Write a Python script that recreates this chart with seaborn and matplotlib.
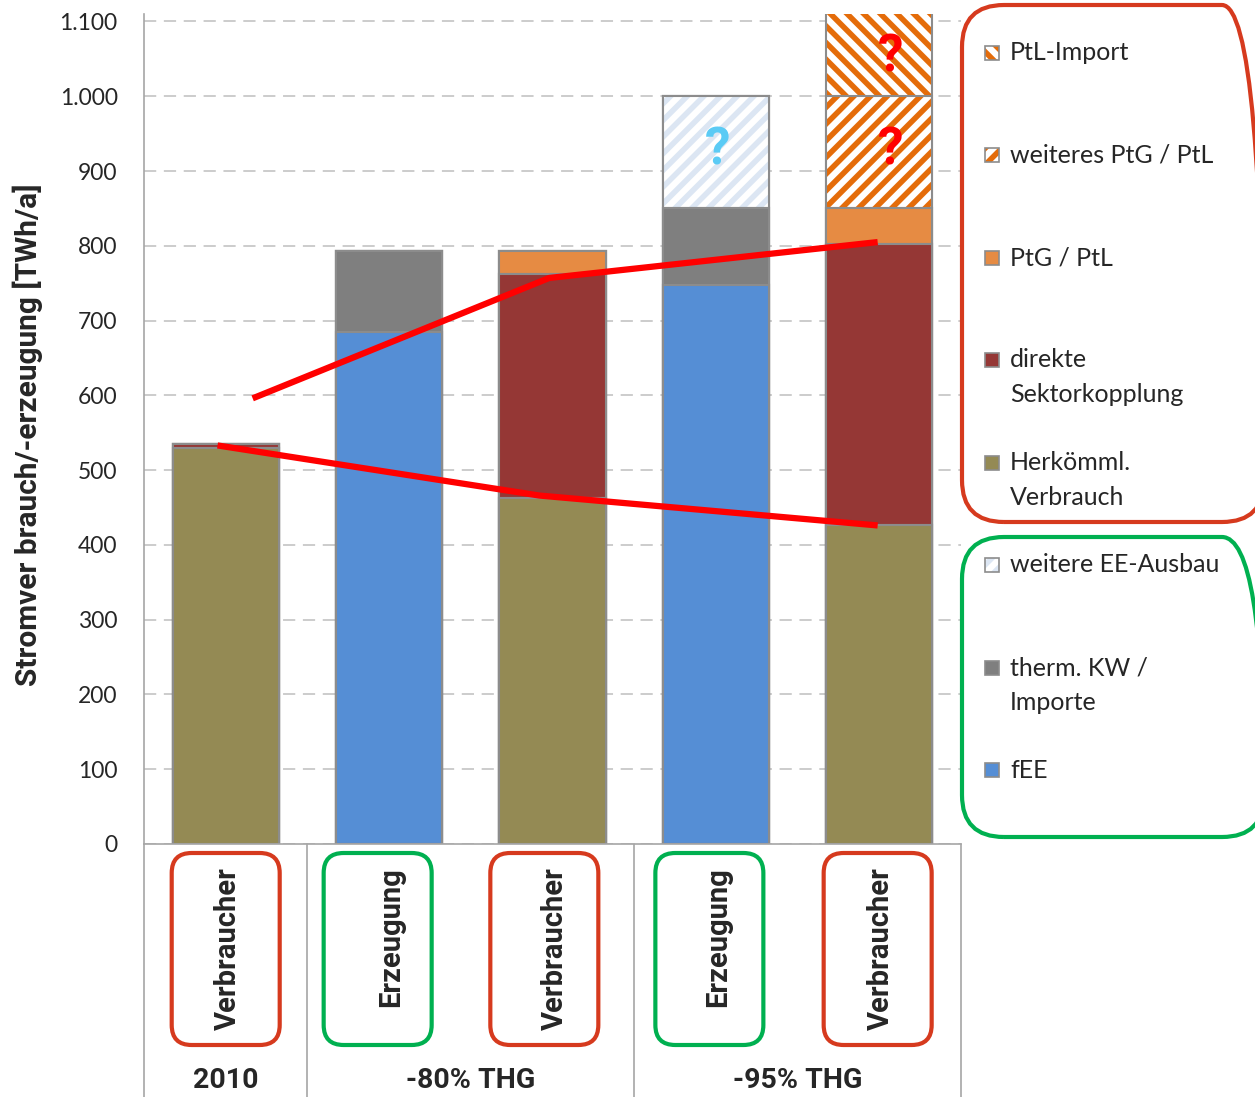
import numpy as np
import pandas as pd
import seaborn as sns
import matplotlib.pyplot as plt
from matplotlib.patches import FancyBboxPatch, Rectangle
from matplotlib.ticker import FuncFormatter

# --- data -------------------------------------------------------------
groups = ["2010", "-80% THG", "-95% THG"]
group_of_bar = [0, 1, 1, 2, 2]
bar_kind = ["Verbraucher", "Erzeugung", "Verbraucher", "Erzeugung", "Verbraucher"]

# Verbraucher side [TWh/a]
herkoemml = [530, 0, 463, 0, 427]
direkte = [5, 0, 299, 0, 375]
ptg_ptl = [0, 0, 31, 0, 48]
weiteres_ptg = [0, 0, 0, 0, 150]
ptl_import = [0, 0, 0, 0, 120]
# Erzeugung side [TWh/a]
fee = [0, 685, 0, 747, 0]
therm = [0, 108, 0, 103, 0]
weitere_ee = [0, 0, 0, 150, 0]

# red guide lines (bar index, TWh/a)
upper_x = [0.165, 1.98, 3.99]
upper_y = [596, 757, 805]
lower_x = [-0.05, 1.92, 3.99]
lower_y = [533, 466, 426]

# question marks on the open segments
q_x = [3.01, 4.07, 4.07]
q_y = [928, 928, 1052]
q_color = ["#5BCBF5", "#FF0000", "#FF0000"]

# --- styles -----------------------------------------------------------
EDGE = "#8C8C8C"
RED_BOX = "#D63A1E"
GREEN_BOX = "#00B050"
BOLD = ["Roboto", "DejaVu Sans"]

# stacking order bottom -> top
stack = [
    ("Herkömml.\nVerbrauch", herkoemml, dict(color="#948A54")),
    ("fEE", fee, dict(color="#558ED5")),
    ("direkte\nSektorkopplung", direkte, dict(color="#953735")),
    ("therm. KW /\nImporte", therm, dict(color="#7F7F7F")),
    ("PtG / PtL", ptg_ptl, dict(color="#E68B43")),
    ("weitere EE-Ausbau", weitere_ee, dict(color="white", hatch="//", hc="#DCE6F3")),
    ("weiteres PtG / PtL", weiteres_ptg, dict(color="white", hatch="//", hc="#E46C0A")),
    ("PtL-Import", ptl_import, dict(color="white", hatch="\\\\", hc="#E46C0A")),
]
styles = {lab: st for lab, _, st in stack}

sns.set_style("white")
plt.rcParams["font.family"] = ["Lato", "DejaVu Sans"]
plt.rcParams["hatch.linewidth"] = 4.0

W, H = 1255, 1097
fig = plt.figure(figsize=(W / 100, H / 100), dpi=100)
ax_l, ax_r, ax_t, ax_b = 144, 961, 14, 844
ax = fig.add_axes([ax_l / W, 1 - ax_b / H, (ax_r - ax_l) / W, (ax_b - ax_t) / H])

# stacked bars: draw cumulative tops from the top layer down
bar_ids = [f"b{i}" for i in range(len(bar_kind))]
tops = np.cumsum([vals for _, vals, _ in stack], axis=0)
for (lab, vals, st), top in reversed(list(zip(stack, tops))):
    df = pd.DataFrame({"bar": bar_ids, "top": top})
    if "hatch" in st:
        sns.barplot(data=df, x="bar", y="top", color="white", saturation=1,
                    width=0.65, errorbar=None, hatch=st["hatch"],
                    edgecolor=st["hc"], linewidth=0, ax=ax)
        sns.barplot(data=df, x="bar", y="top", color=EDGE, saturation=1,
                    width=0.65, errorbar=None, fill=False, linewidth=1.5, ax=ax)
    else:
        sns.barplot(data=df, x="bar", y="top", color=st["color"], saturation=1,
                    width=0.65, errorbar=None, edgecolor=EDGE, linewidth=1.5, ax=ax)

# red funnel lines
ax.plot(upper_x, upper_y, color="#FF0000", lw=4.5, solid_capstyle="butt", zorder=5)
ax.plot(lower_x, lower_y, color="#FF0000", lw=4.5, solid_capstyle="butt", zorder=5)

for x, y, c in zip(q_x, q_y, q_color):
    ax.text(x, y, "?", color=c, fontsize=37, fontweight="bold", family=BOLD,
            ha="center", va="center", zorder=6)

# axes look
ax.set_xlim(-0.5, 4.5)
ax.set_ylim(0, 1110)
ax.set_yticks(range(0, 1101, 100))
ax.yaxis.set_major_formatter(FuncFormatter(lambda v, p: f"{v:,.0f}".replace(",", ".")))
ax.tick_params(axis="y", length=0, pad=19, labelsize=16.5)
ax.set_xticks([])
ax.set_xlabel("")
ax.set_ylabel("Stromver brauch/-erzeugung [TWh/a]", fontsize=21.5, fontweight="bold", family=BOLD)
ax.yaxis.set_label_coords((43 - ax_l) / (ax_r - ax_l), (ax_b - 435) / (ax_b - ax_t))
ax.grid(axis="y", color="#BFBFBF", lw=1.1, linestyle=(0, (8, 5)))
ax.set_axisbelow(True)
for side in ["top", "right"]:
    ax.spines[side].set_visible(False)
for side in ["left", "bottom"]:
    ax.spines[side].set_color("#A6A6A6")
    ax.spines[side].set_linewidth(1.2)

# category table under the axis
xt = ax.get_xaxis_transform()
y_bottom = -(H - ax_b) / (ax_b - ax_t)
for xs in [-0.5, 0.5, 2.5, 4.5]:
    ax.plot([xs, xs], [0, y_bottom], transform=xt, color="#A6A6A6", lw=1.2, clip_on=False)
for g, name in enumerate(groups):
    pos = [i for i, gb in enumerate(group_of_bar) if gb == g]
    ax.text(np.mean(pos), (ax_b - 1080) / (ax_b - ax_t), name, transform=xt,
            ha="center", va="center", fontsize=20.5, fontweight="bold", family=BOLD)

fig.canvas.draw()
box_shift = [0, -0.07, -0.05, -0.04, -0.01]
for i, kind in enumerate(bar_kind):
    cx = ax.transData.transform((i, 0))[0]
    bx = ax.transData.transform((i + box_shift[i], 0))[0]
    fig.text((cx + 2) / W, 1 - 867 / H, kind, rotation=90, ha="center", va="top",
             fontsize=21, fontweight="bold", family=BOLD)
    col = RED_BOX if kind == "Verbraucher" else GREEN_BOX
    fig.add_artist(FancyBboxPatch(((bx - 54) / 100, (H - 1045) / 100), 1.08, 1.92,
                                  boxstyle="round,pad=0,rounding_size=0.2",
                                  transform=fig.dpi_scale_trans, fill=False,
                                  ec=col, lw=3))

# hand-made legend in two rounded boxes
fig.add_artist(FancyBboxPatch((9.62, (H - 522) / 100), 3.02, 5.17,
                              boxstyle="round,pad=0,rounding_size=0.42",
                              transform=fig.dpi_scale_trans, fill=False, ec=RED_BOX, lw=3))
fig.add_artist(FancyBboxPatch((9.62, (H - 837) / 100), 3.02, 3.00,
                              boxstyle="round,pad=0,rounding_size=0.42",
                              transform=fig.dpi_scale_trans, fill=False, ec=GREEN_BOX, lw=3))

legend_order = ["PtL-Import", "weiteres PtG / PtL", "PtG / PtL", "direkte\nSektorkopplung",
                "Herkömml.\nVerbrauch", "weitere EE-Ausbau", "therm. KW /\nImporte", "fEE"]
legend_y = [53, 155, 258, 360, 463, 565, 668, 770]
for lab, py in zip(legend_order, legend_y):
    st = styles[lab]
    if "hatch" in st:
        fig.add_artist(Rectangle((9.85, (H - py - 7) / 100), 0.14, 0.14, transform=fig.dpi_scale_trans,
                                 facecolor="white", hatch=st["hatch"], edgecolor=st["hc"], lw=0))
        fig.add_artist(Rectangle((9.85, (H - py - 7) / 100), 0.14, 0.14, transform=fig.dpi_scale_trans,
                                 fill=False, edgecolor=EDGE, lw=1.2))
    else:
        fig.add_artist(Rectangle((9.85, (H - py - 7) / 100), 0.14, 0.14, transform=fig.dpi_scale_trans,
                                 facecolor=st["color"], edgecolor=EDGE, lw=1.2))
    for k, line in enumerate(lab.split("\n")):
        fig.text(1010 / W, 1 - (py + 35 * k) / H, line, ha="left", va="center", fontsize=18)

fig.savefig("out.png", dpi=100)
